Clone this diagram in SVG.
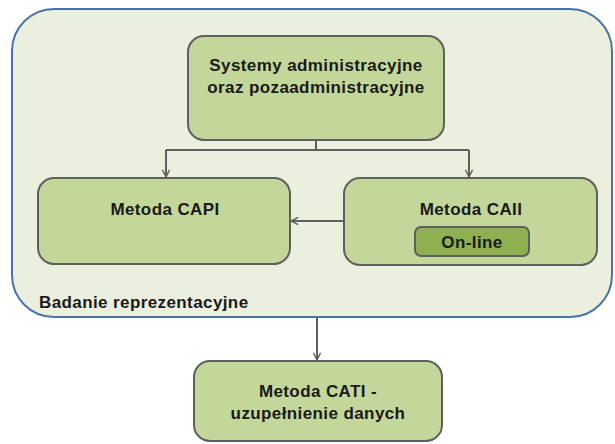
<svg xmlns="http://www.w3.org/2000/svg" width="615" height="444" viewBox="0 0 615 444">
<defs>
<style>
.box{fill:#c4d79b;stroke:#5f5f5f;stroke-width:2}
.t{font-family:"Liberation Sans",Arial,sans-serif;font-weight:bold;font-size:17px;letter-spacing:0.4px;fill:#1a1a1a;text-anchor:middle}
.c{fill:none;stroke:#5f5f5f;stroke-width:2}
</style>
<marker id="ah" viewBox="0 0 10 10" refX="9" refY="5" markerWidth="9" markerHeight="9" markerUnits="userSpaceOnUse" orient="auto">
<path d="M1,1 L9,5 L1,9" fill="none" stroke="#5f5f5f" stroke-width="1.6"/>
</marker>
</defs>
<rect width="615" height="444" fill="#ffffff"/>
<g id="container">
<rect x="12" y="9" width="600" height="308" rx="42" ry="42" fill="#ebf0de" stroke="#4a74a8" stroke-width="2"/>
<text x="39" y="308" class="t" style="text-anchor:start">Badanie reprezentacyjne</text>
</g>
<g id="connectors">
<path class="c" d="M316,140 V150 M166,150 H469"/>
<path class="c" d="M166,150 V177" marker-end="url(#ah)"/>
<path class="c" d="M469,150 V177" marker-end="url(#ah)"/>
<path class="c" d="M344,221 H291" marker-end="url(#ah)"/>
<path class="c" d="M317,318 V360" marker-end="url(#ah)"/>
</g>
<g id="systemy">
<rect class="box" x="188" y="36" width="256" height="104" rx="16"/>
<text class="t" x="316" y="71">Systemy administracyjne</text>
<text class="t" x="316" y="93">oraz pozaadministracyjne</text>
</g>
<g id="capi">
<rect class="box" x="38" y="178" width="252" height="86" rx="16"/>
<text class="t" x="165" y="215">Metoda CAPI</text>
</g>
<g id="caii">
<rect class="box" x="344" y="178" width="253" height="87" rx="16"/>
<text class="t" x="471" y="215">Metoda CAII</text>
<g id="online">
<rect x="415" y="227" width="114" height="29" rx="6" fill="#8fb050" stroke="#5f5f5f" stroke-width="2"/>
<text class="t" x="472" y="248">On-line</text>
</g>
</g>
<g id="cati">
<rect class="box" x="194" y="361" width="248" height="80" rx="16"/>
<text class="t" x="318" y="397">Metoda CATI -</text>
<text class="t" x="318" y="419">uzupełnienie danych</text>
</g>
</svg>
